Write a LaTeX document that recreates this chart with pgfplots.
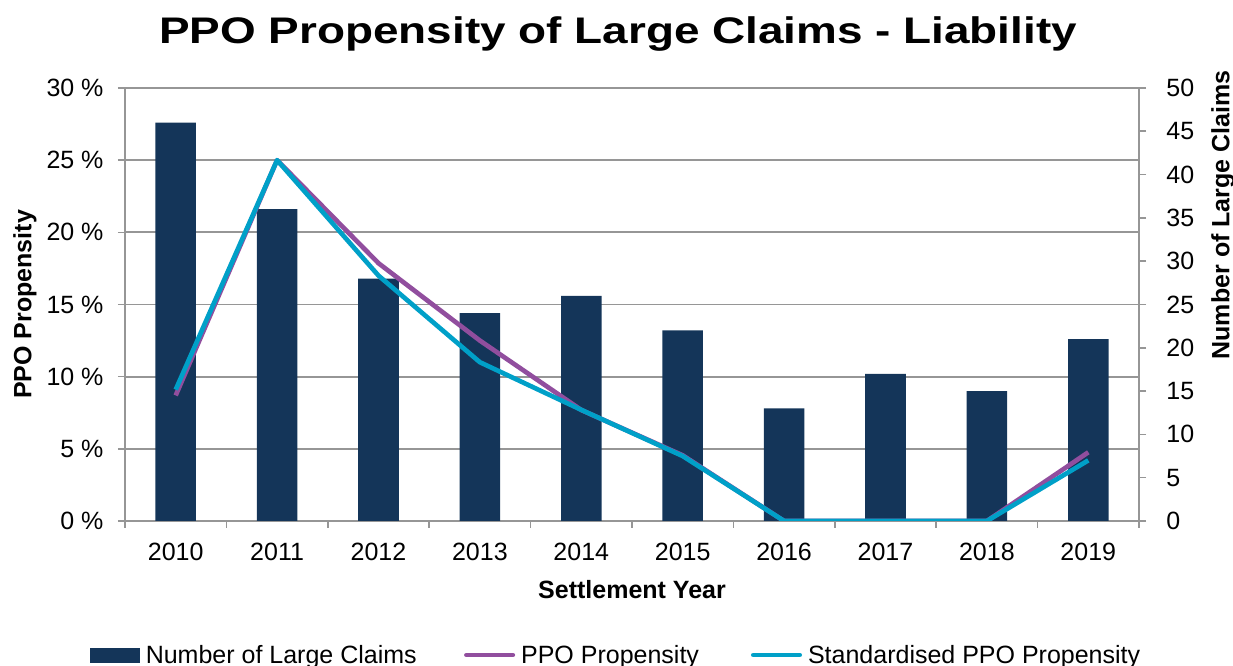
\documentclass[border=0pt]{standalone}
\usepackage{fontspec}
\setmainfont{Liberation Sans}
\newfontfamily\titlefont[FakeStretch=1.24]{Liberation Sans}
\usepackage{pgfplots}
\pgfplotsset{compat=1.18}
\definecolor{navy}{RGB}{20,53,89}
\definecolor{ppopurple}{RGB}{145,78,158}
\definecolor{ppocyan}{RGB}{0,160,200}
\definecolor{gridgray}{RGB}{150,150,150}
\newcommand{\fs}{\fontsize{18.75pt}{22pt}\selectfont}
\pgfplotsset{
  common/.style={
    width=760.5pt, height=324.75pt, scale only axis,
    xmin=-0.5, xmax=9.5, enlargelimits=false,
    axis line style={gridgray, line width=1.2pt},
    tick style={gridgray, line width=1.2pt},
    tick align=outside,
    ticklabel style={font=\fs},
    label style={font=\fs\bfseries},
  },
  lineleg/.style={legend image code/.code={\draw[##1, line cap=round] (0pt,0pt) -- (34.8pt,0pt);}},
  barleg/.style={legend image code/.code={\fill[navy] (0pt,-5.25pt) rectangle (36.75pt,5.25pt);}},
}
\begin{document}
\begin{tikzpicture}
\path[use as bounding box] (-93.75pt,-108.75pt) rectangle (831pt,390.75pt);
% axis 1: grid, left axis, x labels
\begin{axis}[common,
  ymin=0, ymax=30,
  ytick={0,5,10,15,20,25,30},
  yticklabels={0 \%,5 \%,10 \%,15 \%,20 \%,25 \%,30 \%},
  minor ytick={0,5,10,15,20,25,30},
  xtick={0,1,2,3,4,5,6,7,8,9},
  xticklabels={2010,2011,2012,2013,2014,2015,2016,2017,2018,2019},
  minor xtick={-0.5,0.5,1.5,2.5,3.5,4.5,5.5,6.5,7.5,8.5,9.5},
  major tick length=0pt, minor tick length=5.25pt,
  ytick pos=left, xtick pos=bottom,
  ymajorgrids, grid style={gridgray, line width=1.3pt},
  xticklabel shift=13pt, yticklabel shift=12.6pt,
  xlabel={Settlement Year}, ylabel={PPO Propensity},
  xlabel style={at={([yshift=-51.75pt]axis description cs:0.5,0)}, anchor=center},
  ylabel style={at={([xshift=-75pt]axis description cs:0,0.5)}, anchor=center},
  title={PPO Propensity of Large Claims - Liability},
  title style={font=\titlefont\bfseries\fontsize{27.75pt}{30pt}\selectfont,
    at={([xshift=-10.5pt,yshift=27pt]axis description cs:0.5,1)}, anchor=base},
]
\end{axis}
% axis 2: bars, right axis
\begin{axis}[common,
  ymin=0, ymax=50,
  ytick={0,5,10,15,20,25,30,35,40,45,50},
  yticklabels={0,5,10,15,20,25,30,35,40,45,50},
  major tick length=5.25pt,
  ytick pos=right, yticklabel pos=right,
  xtick=\empty,
  yticklabel shift=11.75pt,
  ylabel={Number of Large Claims},
  ylabel style={at={([xshift=63pt]axis description cs:1,0.707)}, anchor=center},
]
\addplot[ybar, bar width=0.4, fill=navy, draw=none] coordinates {
  (0,46) (1,36) (2,28) (3,24) (4,26) (5,22) (6,13) (7,17) (8,15) (9,21)
};
\end{axis}
% axis 3: lines
\begin{axis}[common, hide axis,
  ymin=0, ymax=30,
  legend style={draw=none, fill=none, font=\fs, inner sep=0pt,
    at={([xshift=-26.25pt,yshift=-100.5pt]axis description cs:0,0)}, anchor=west,
    legend columns=3,
    /tikz/every odd column/.append style={column sep=2.5pt},
    /tikz/column 2/.style={column sep=33.5pt},
    /tikz/column 4/.style={column sep=37pt},
    nodes={inner sep=2pt}},
  legend cell align=left,
]
\addlegendimage{barleg}
\addlegendentry{Number of Large Claims}
\addplot[ppopurple, line width=3.5pt, line join=round, lineleg] coordinates {
  (0,8.7) (1,25.0) (2,17.86) (3,12.5) (4,7.69) (5,4.55) (6,0) (7,0) (8,0) (9,4.76)
};
\addlegendentry{PPO Propensity}
\addplot[ppocyan, line width=3.5pt, line join=round, lineleg] coordinates {
  (0,9.1) (1,25.0) (2,17.0) (3,11.0) (4,7.7) (5,4.5) (6,0) (7,0) (8,0) (9,4.2)
};
\addlegendentry{Standardised PPO Propensity}
\end{axis}
\end{tikzpicture}
\end{document}
